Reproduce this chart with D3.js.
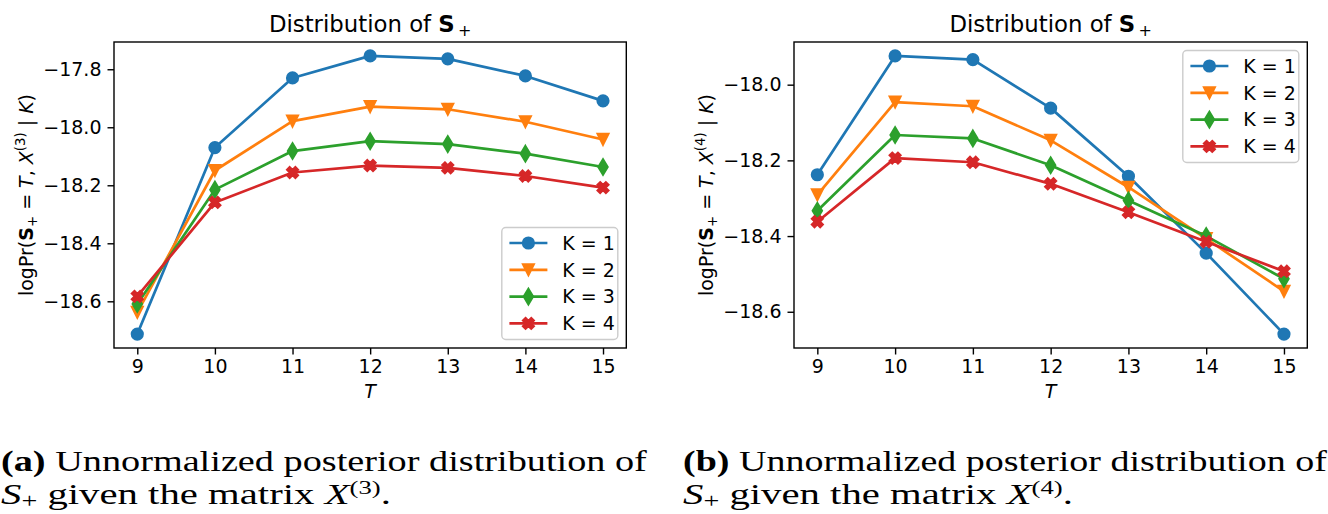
<!DOCTYPE html>
<html><head><meta charset="utf-8">
<script src="https://cdn.jsdelivr.net/npm/d3@7"></script>
<style>body{margin:0;background:#fff} svg{display:block}</style>
</head><body>
<svg id="c" width="1328" height="514"></svg>
<script>
// ---------- data ----------
const T = [9, 10, 11, 12, 13, 14, 15];
const seriesLabels = ["K = 1", "K = 2", "K = 3", "K = 4"];
const colors = ["#1f77b4", "#ff7f0e", "#2ca02c", "#d62728"];
const markers = ["circle", "triangleDown", "thinDiamond", "xFilled"];

// panel (a): X^(3)
const a_K1 = [-18.713, -18.070, -17.830, -17.754, -17.764, -17.823, -17.909];
const a_K2 = [-18.638, -18.149, -17.979, -17.929, -17.938, -17.981, -18.042];
const a_K3 = [-18.609, -18.215, -18.082, -18.048, -18.058, -18.091, -18.137];
const a_K4 = [-18.583, -18.259, -18.156, -18.132, -18.140, -18.168, -18.208];
const a_yTicks = [-17.8, -18.0, -18.2, -18.4, -18.6];

// panel (b): X^(4)
const b_K1 = [-18.238, -17.924, -17.934, -18.062, -18.242, -18.445, -18.659];
const b_K2 = [-18.291, -18.046, -18.057, -18.147, -18.271, -18.407, -18.546];
const b_K3 = [-18.333, -18.133, -18.142, -18.213, -18.306, -18.400, -18.513];
const b_K4 = [-18.362, -18.194, -18.205, -18.262, -18.337, -18.415, -18.493];
const b_yTicks = [-18.0, -18.2, -18.4, -18.6];

const xTicks = [9, 10, 11, 12, 13, 14, 15];

// ---------- drawing ----------
const svg = d3.select("#c");
const FS = 19, FONT = "DejaVu Sans";
const MS = 5.7; // marker half-size

function markerPath(type) {
  const p = d3.path();
  if (type === "circle") { p.moveTo(MS, 0); p.arc(0, 0, MS, 0, 2 * Math.PI); p.closePath(); return p.toString(); }
  let pts;
  if (type === "triangleDown") pts = [[0, MS], [MS, -MS], [-MS, -MS]];
  else if (type === "thinDiamond") pts = [[0, -MS * 1.414], [MS * 0.85, 0], [0, MS * 1.414], [-MS * 0.85, 0]];
  else pts = [[-1,-2],[0,-1],[1,-2],[2,-1],[1,0],[2,1],[1,2],[0,1],[-1,2],[-2,1],[-1,0],[-2,-1]].map(d => [d[0]*MS/2, d[1]*MS/2]);
  return "M" + pts.map(d => d.join(",")).join("L") + "Z";
}

function drawMarker(g, type, cx, cy, color) {
  g.append("path").attr("d", markerPath(type))
    .attr("transform", `translate(${cx},${cy})`)
    .attr("fill", color).attr("stroke", color).attr("stroke-width", 1.8)
    .attr("stroke-linejoin", "miter");
}

function drawPanel(o) {
  const g = svg.append("g");
  const x = d3.scaleLinear().domain([T[0] - 0.3, T[T.length - 1] + 0.3]).range([o.x0, o.x1]);
  const all = o.series.flat();
  const mn = d3.min(all), mx = d3.max(all), pad = (mx - mn) * 0.05;
  const y = d3.scaleLinear().domain([mn - pad, mx + pad]).range([o.y1, o.y0]);

  // axes
  const ax = g.append("g").attr("transform", `translate(0,${o.y1})`)
    .call(d3.axisBottom(x).tickValues(xTicks).tickFormat(d3.format("d")).tickSize(6.5).tickPadding(5.5));
  const ay = g.append("g").attr("transform", `translate(${o.x0},0)`)
    .call(d3.axisLeft(y).tickValues(o.yTicks).tickFormat(d3.format(".1f")).tickSize(6.5).tickPadding(6));
  [ax, ay].forEach(a => {
    a.select(".domain").remove();
    a.selectAll("line").attr("stroke", "#000").attr("stroke-width", 1.4);
    a.selectAll("text").attr("font-family", FONT).attr("font-size", FS).attr("fill", "#000");
  });

  // series
  const line = d3.line().x((d, i) => x(T[i])).y(d => y(d));
  o.series.forEach((s, k) => {
    g.append("path").attr("d", line(s)).attr("fill", "none")
      .attr("stroke", colors[k]).attr("stroke-width", 2.7).attr("stroke-linejoin", "round");
    s.forEach((v, i) => drawMarker(g, markers[k], x(T[i]), y(v), colors[k]));
  });

  // frame
  g.append("rect").attr("x", o.x0).attr("y", o.y0).attr("width", o.x1 - o.x0).attr("height", o.y1 - o.y0)
    .attr("fill", "none").attr("stroke", "#000").attr("stroke-width", 1.4);

  // title
  const cx = (o.x0 + o.x1) / 2;
  const t = g.append("text").attr("x", cx).attr("y", o.y0 - 10).attr("text-anchor", "middle")
    .attr("font-family", FONT).attr("font-size", 22.8).attr("fill", "#000");
  t.append("tspan").text("Distribution of ");
  t.append("tspan").attr("font-weight", "bold").text("S");
  t.append("tspan").attr("font-size", 16).attr("dy", 4).text("\u2009+");

  // x label
  g.append("text").attr("x", cx).attr("y", o.y1 + 50).attr("text-anchor", "middle")
    .attr("font-family", FONT).attr("font-size", FS).attr("font-style", "italic").attr("fill", "#000").text("T");

  // y label
  const cy = (o.y0 + o.y1) / 2;
  const yl = g.append("text").attr("transform", `translate(${o.ylabX},${cy}) rotate(-90)`)
    .attr("text-anchor", "middle").attr("font-family", FONT).attr("font-size", FS).attr("fill", "#000");
  yl.append("tspan").text("logPr(");
  yl.append("tspan").attr("font-weight", "bold").text("S");
  yl.append("tspan").attr("font-size", 13.3).attr("dy", 3.5).text("+");
  yl.append("tspan").attr("dy", -3.5).text(" = ");
  yl.append("tspan").attr("font-style", "italic").text("T");
  yl.append("tspan").text(", ");
  yl.append("tspan").attr("font-style", "italic").text("X");
  yl.append("tspan").attr("font-size", 13.3).attr("dy", -8).text(o.sup);
  yl.append("tspan").attr("dy", 8).text(" | ");
  yl.append("tspan").attr("font-style", "italic").text("K");
  yl.append("tspan").text(")");

  // legend
  const lw = 116, lh = 112;
  const lx = o.x1 - 8.5 - lw;
  const ly = o.legend === "lower right" ? o.y1 - 8.5 - lh : o.y0 + 8.5;
  const lg = g.append("g");
  lg.append("rect").attr("x", lx).attr("y", ly).attr("width", lw).attr("height", lh).attr("rx", 4)
    .attr("fill", "#fff").attr("fill-opacity", 0.8).attr("stroke", "#cccccc").attr("stroke-width", 1.4);
  seriesLabels.forEach((lab, k) => {
    const ry = ly + 15.5 + k * 26.8;
    lg.append("line").attr("x1", lx + 7.6).attr("x2", lx + 45.6).attr("y1", ry).attr("y2", ry)
      .attr("stroke", colors[k]).attr("stroke-width", 2.7);
    drawMarker(lg, markers[k], lx + 26.6, ry, colors[k]);
    lg.append("text").attr("x", lx + 60.5).attr("y", ry).attr("dy", "0.36em")
      .attr("font-family", FONT).attr("font-size", FS).attr("fill", "#000").text(lab);
  });
}

drawPanel({ x0: 114, x1: 626.3, y0: 42, y1: 348, series: [a_K1, a_K2, a_K3, a_K4],
  yTicks: a_yTicks, sup: "(3)", ylabX: 33, legend: "lower right" });
drawPanel({ x0: 794, x1: 1307.3, y0: 42, y1: 348, series: [b_K1, b_K2, b_K3, b_K4],
  yTicks: b_yTicks, sup: "(4)", ylabX: 713, legend: "upper right" });

// ---------- captions ----------
function caption(x0, width1, width2, letter, sup) {
  const SF = "Liberation Serif, Times New Roman, serif", CS = 29;
  const g1 = svg.append("g");
  const l1 = g1.append("text").attr("x", 0).attr("y", 471).attr("font-family", SF).attr("font-size", CS).attr("fill", "#000");
  l1.append("tspan").attr("font-weight", "bold").text(`(${letter})`);
  l1.append("tspan").text(" Unnormalized posterior distribution of");
  const g2 = svg.append("g");
  const l2 = g2.append("text").attr("x", 0).attr("y", 504).attr("font-family", SF).attr("font-size", CS).attr("fill", "#000");
  l2.append("tspan").attr("font-style", "italic").text("S");
  l2.append("tspan").attr("font-size", 20).attr("dy", 4).text("+");
  l2.append("tspan").attr("dy", -4).text(" given the matrix ");
  l2.append("tspan").attr("font-style", "italic").text("X");
  l2.append("tspan").attr("font-size", 19).attr("dy", -10).text(sup);
  l2.append("tspan").attr("dy", 10).text(".");
  const w1 = l1.node().getComputedTextLength();
  const w2 = l2.node().getComputedTextLength();
  g1.attr("transform", `translate(${x0},0) scale(${w1 > 0 ? width1 / w1 : 1},1)`);
  g2.attr("transform", `translate(${x0},0) scale(${w2 > 0 ? width2 / w2 : 1},1)`);
}
caption(1, 646, 390, "a", "(3)");
caption(683, 644, 390, "b", "(4)");
</script>
</body></html>
